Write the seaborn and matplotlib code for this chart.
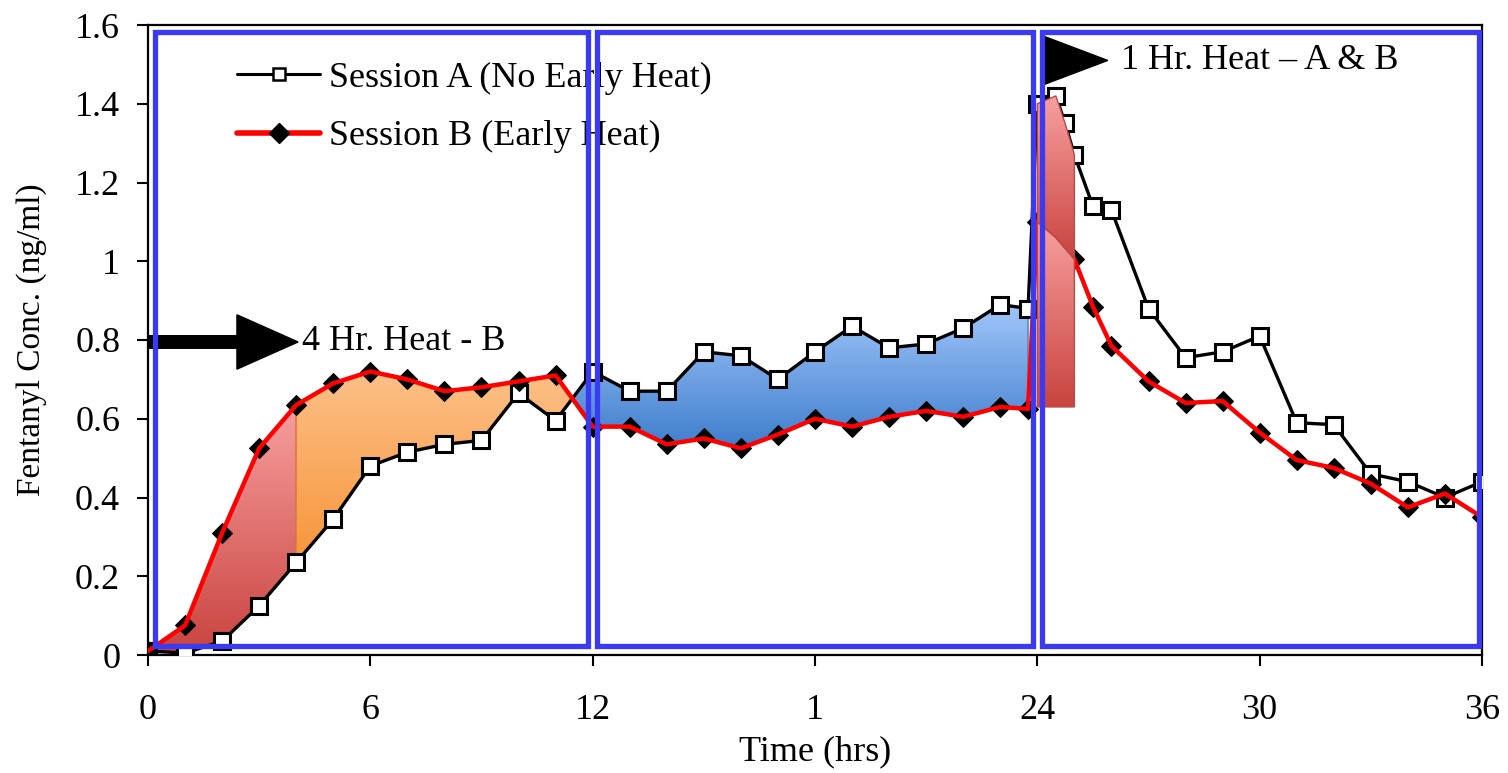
import numpy as np
import pandas as pd
import matplotlib
matplotlib.use("Agg")
import matplotlib.pyplot as plt
import seaborn as sns
from matplotlib.colors import LinearSegmentedColormap
from matplotlib.patches import PathPatch, Rectangle, FancyArrow
from matplotlib.path import Path
from matplotlib.lines import Line2D

# ---------------- data ----------------
time_a = [0, 1, 2, 3, 4, 5, 6, 7, 8, 9, 10, 11, 12, 13, 14, 15, 16, 17, 18, 19,
          20, 21, 22, 23, 23.75, 24, 24.5, 24.75, 25, 25.5, 26, 27, 28, 29, 30,
          31, 32, 33, 34, 35, 36]
conc_a = [0.01, 0.005, 0.035, 0.125, 0.235, 0.345, 0.48, 0.515, 0.535, 0.545,
          0.665, 0.595, 0.72, 0.67, 0.67, 0.77, 0.76, 0.70, 0.77, 0.835, 0.78,
          0.79, 0.83, 0.89, 0.88, 1.40, 1.42, 1.35, 1.27, 1.14, 1.13, 0.88,
          0.755, 0.77, 0.81, 0.59, 0.585, 0.46, 0.44, 0.40, 0.44]

time_b = [0, 1, 2, 3, 4, 5, 6, 7, 8, 9, 10, 11, 12, 13, 14, 15, 16, 17, 18, 19,
          20, 21, 22, 23, 23.75, 24, 24.5, 25, 25.5, 26, 27, 28, 29, 30, 31, 32,
          33, 34, 35, 36]
conc_b = [0.01, 0.075, 0.31, 0.525, 0.635, 0.69, 0.72, 0.70, 0.67, 0.68, 0.695,
          0.71, 0.58, 0.58, 0.535, 0.55, 0.525, 0.56, 0.60, 0.58, 0.605, 0.62,
          0.605, 0.63, 0.625, 1.10, 1.06, 1.005, 0.885, 0.785, 0.695, 0.64,
          0.645, 0.565, 0.495, 0.475, 0.435, 0.375, 0.41, 0.35]

x_ticks = [0, 6, 12, 18, 24, 30, 36]
x_tick_labels = ["0", "6", "12", "1", "24", "30", "36"]
y_ticks = [0, 0.2, 0.4, 0.6, 0.8, 1.0, 1.2, 1.4, 1.6]
y_tick_labels = ["0", "0.2", "0.4", "0.6", "0.8", "1", "1.2", "1.4", "1.6"]

label_a = "Session A (No Early Heat)"
label_b = "Session B (Early Heat)"

df_a = pd.DataFrame({"Time": time_a, "Conc": conc_a})
df_b = pd.DataFrame({"Time": time_b, "Conc": conc_b})

# ---------------- style ----------------
sns.set_style("ticks")
plt.rcParams["font.family"] = ["Liberation Serif", "DejaVu Serif"]
for k in ["text.color", "axes.labelcolor", "xtick.color", "ytick.color",
          "axes.edgecolor"]:
    plt.rcParams[k] = "black"
FS = 26

fig = plt.figure(figsize=(15.08, 7.73), dpi=100)
ax = fig.add_axes([148 / 1508, 1 - 655 / 773, 1334 / 1508, 630 / 773])


def gradient_fill(ax, x, y1, y2, where, top, bottom, edge, z):
    coll = ax.fill_between(x, y1, y2, where=where, interpolate=True,
                           facecolor="none", edgecolor="none")
    paths = coll.get_paths()
    path = Path.make_compound_path(*paths)
    v = path.vertices
    xmin, xmax = v[:, 0].min(), v[:, 0].max()
    ymin, ymax = v[:, 1].min(), v[:, 1].max()
    cmap = LinearSegmentedColormap.from_list("g", [bottom, top])
    grad = np.linspace(0, 1, 256).reshape(-1, 1)
    im = ax.imshow(grad, cmap=cmap, origin="lower", aspect="auto",
                   extent=[xmin, xmax, ymin, ymax], zorder=z,
                   interpolation="bilinear")
    patch = PathPatch(path, transform=ax.transData, facecolor="none",
                      edgecolor=edge, lw=1.0, zorder=z + 0.1)
    ax.add_patch(patch)
    im.set_clip_path(patch)
    coll.remove()


t_all = np.union1d(time_a, time_b)
a_i = np.interp(t_all, time_a, conc_a)
b_i = np.interp(t_all, time_b, conc_b)

RED_TOP, RED_BOT, RED_EDGE = "#f7a0a0", "#c9443f", "#b84a47"
OR_TOP, OR_BOT, OR_EDGE = "#fcc088", "#f7953a", "#e8873a"
BL_TOP, BL_BOT, BL_EDGE = "#a0c6fa", "#3f7dcc", "#4a7bb5"

# red gradient between B and A, first four hours
m = t_all <= 4
gradient_fill(ax, t_all[m], b_i[m], a_i[m], None, RED_TOP, RED_BOT, RED_EDGE, 1)
# orange: B above A from 4 h to the crossing
m = (t_all >= 4) & (t_all <= 12)
gradient_fill(ax, t_all[m], b_i[m], a_i[m], b_i[m] >= a_i[m],
              OR_TOP, OR_BOT, OR_EDGE, 1)
# blue: A above B from crossing to ~24 h
m = (t_all >= 11) & (t_all <= 23.75)
gradient_fill(ax, t_all[m], a_i[m], b_i[m], a_i[m] >= b_i[m],
              BL_TOP, BL_BOT, BL_EDGE, 1)
# red pieces after 24 h heat
m = (t_all >= 24) & (t_all <= 25)
fill_floor = 0.63
gradient_fill(ax, t_all[m], a_i[m], b_i[m], None, RED_TOP, RED_BOT, RED_EDGE, 4.5)
gradient_fill(ax, t_all[m], b_i[m], np.full(m.sum(), fill_floor), None,
              RED_TOP, RED_BOT, RED_EDGE, 4.5)

# ---------------- lines ----------------
sns.lineplot(data=df_a, x="Time", y="Conc", ax=ax, color="black", lw=2.4,
             marker="s", markersize=11, markerfacecolor="white",
             markeredgecolor="black", markeredgewidth=2.2, estimator=None,
             sort=False, zorder=3)
sns.lineplot(data=df_b, x="Time", y="Conc", ax=ax, color="black", lw=2.0,
             marker="D", markersize=10.5, markerfacecolor="black",
             markeredgecolor="black", estimator=None, sort=False, zorder=3)
sns.lineplot(data=df_b, x="Time", y="Conc", ax=ax, color="#ff0000", lw=3.2,
             estimator=None, sort=False, zorder=4)

# ---------------- blue boxes ----------------
BOX_C = "#3a3af5"
for x0, x1 in [(0.19, 11.87), (12.12, 23.88), (24.13, 35.92)]:
    ax.add_patch(Rectangle((x0, 0.022), x1 - x0, 1.56, fill=False,
                           edgecolor=BOX_C, lw=3.8, zorder=6))

# ---------------- arrows & annotations ----------------
ax.add_patch(FancyArrow(0, 0.795, 4.05, 0, width=0.032, head_width=0.138,
                        head_length=1.65, length_includes_head=True,
                        color="black", zorder=5, clip_on=False))
ax.text(4.15, 0.795, "4 Hr. Heat - B", fontsize=FS, va="center", ha="left",
        zorder=7)
ax.add_patch(FancyArrow(24.1, 1.51, 1.8, 0, width=0.001, head_width=0.128,
                        head_length=1.8, length_includes_head=True,
                        color="black", zorder=5))
ax.text(26.25, 1.51, "1 Hr. Heat \u2013 A & B", fontsize=FS, va="center",
        ha="left", zorder=7)

# ---------------- legend ----------------
handles = [
    Line2D([], [], color="black", lw=2.2, marker="s", markersize=9,
           markerfacecolor="white", markeredgecolor="black",
           markeredgewidth=1.8),
    Line2D([], [], color="#ff0000", lw=4, marker="D", markersize=10,
           markerfacecolor="black", markeredgecolor="black"),
]
ax.legend(handles, [label_a, label_b], loc="upper left",
          bbox_to_anchor=(0.0667, 0.942), frameon=False, fontsize=FS,
          handlelength=2.3, handletextpad=0.25, labelspacing=0.7,
          borderpad=0, borderaxespad=0)

# ---------------- axes ----------------
ax.set_xlim(0, 36)
ax.set_ylim(0, 1.6)
ax.set_xticks(x_ticks)
ax.set_xticklabels(x_tick_labels)
ax.set_yticks(y_ticks)
ax.set_yticklabels(y_tick_labels)
ax.tick_params(axis="x", direction="out", length=8, width=1.5, pad=20,
               labelsize=FS)
ax.tick_params(axis="y", direction="out", length=8, width=1.5, pad=12,
               labelsize=FS)
for s in ax.spines.values():
    s.set_visible(True)
    s.set_color("black")
    s.set_linewidth(1.6)
ax.set_xlabel("Time (hrs)", fontsize=FS, labelpad=6)
ax.set_ylabel("Fentanyl Conc. (ng/ml)", fontsize=24, labelpad=20)

fig.savefig("out.png", dpi=100)
